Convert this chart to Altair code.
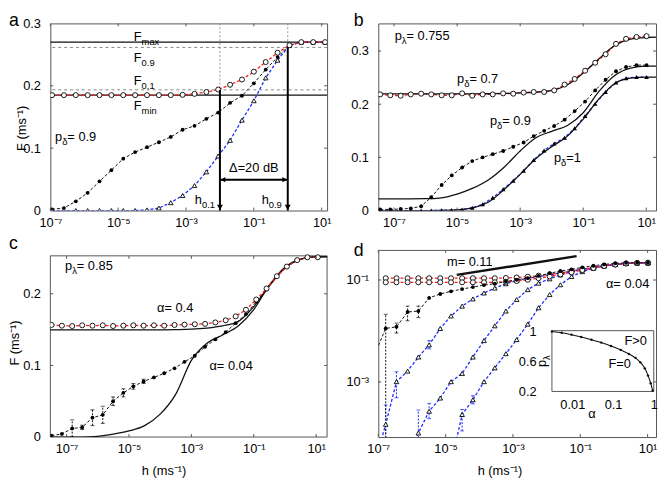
import altair as alt
import pandas as pd

FONT = "Liberation Sans"
FS = 13
FSUB = 9.5
INK = "#111111"
FRAME = "#555555"
GRAY = "#7a7a7a"
RED = "#ff1a1a"
BLUE = "#1a2cff"

# ---------------- panel a data (log10 h, F) ----------------
a_logh = [-6.95, -6.6, -6.25, -5.9, -5.55, -5.2, -4.85, -4.5, -4.15, -3.8, -3.45, -3.1,
          -2.75, -2.4, -2.05, -1.7, -1.35, -1.0, -0.65, -0.3, 0.05, 0.4, 0.75, 1.1]
a_open = [0.185, 0.185, 0.185, 0.185, 0.185, 0.185, 0.185, 0.185, 0.185, 0.185, 0.185, 0.1855,
          0.187, 0.19, 0.194, 0.2016, 0.21, 0.2226, 0.238, 0.253, 0.265, 0.27, 0.27, 0.27]
a_filled = [0.002, 0.004, 0.0147, 0.0284, 0.0468, 0.0647, 0.0832, 0.0937, 0.1016, 0.1095, 0.118, 0.1295,
            0.1358, 0.147, 0.157, 0.1726, 0.184, 0.204, 0.226, 0.246, 0.265, 0.27, 0.27, 0.27]
a_tri = [0.0, 0.0, 0.0, 0.0, 0.0, 0.0, 0.0, 0.0, 0.001, 0.004, 0.0126, 0.024,
         0.04, 0.062, 0.0874, 0.1126, 0.145, 0.176, 0.2127, 0.241, 0.265, 0.27, 0.27, 0.27]
a_levels_solid = [0.27, 0.185]       # F_max, F_min
a_levels_dashed = [0.2615, 0.1935]   # F_0.9, F_0.1
a_hmarks = [-2.0, 0.0]               # log10 of h_0.1, h_0.9
a_arrow_top = [0.1935, 0.2615]
a_delta_F = 0.0495

# ---------------- panel b data ----------------
b_logh = [-7.44, -7.12, -6.79, -6.47, -6.14, -5.82, -5.49, -5.17, -4.84, -4.52, -4.19, -3.87, -3.54,
          -3.22, -2.89, -2.57, -2.24, -1.92, -1.59, -1.27, -0.94, -0.62, -0.29, 0.04, 0.36, 0.69, 1.01]
b_open = [0.2185, 0.2167, 0.216, 0.2185, 0.2198, 0.2185, 0.2167, 0.2167, 0.2204, 0.216, 0.2185, 0.2185, 0.2204,
          0.2198, 0.222, 0.223, 0.223, 0.226, 0.237, 0.2475, 0.263, 0.278, 0.294, 0.3135, 0.323, 0.3265, 0.328]
b_filled = [0.002, 0.002, 0.003, 0.004, 0.008, 0.025, 0.048, 0.066, 0.081, 0.093, 0.1, 0.106, 0.112,
            0.12, 0.128, 0.14, 0.15, 0.159, 0.171, 0.187, 0.205, 0.226, 0.246, 0.262, 0.27, 0.2735, 0.2735]
b_tri = [0.0, 0.0, 0.0, 0.0, 0.0, 0.0, 0.0005, 0.001, 0.002, 0.005, 0.012, 0.024, 0.04,
         0.056, 0.075, 0.095, 0.113, 0.126, 0.137, 0.155, 0.178, 0.201, 0.223, 0.241, 0.249, 0.251, 0.251]
b_th_logh = [-7.5, -7.0, -6.5, -6.0, -5.5, -5.0, -4.5, -4.0, -3.5, -3.0, -2.5, -2.0, -1.5, -1.0, -0.5,
             0.0, 0.5, 1.0, 1.31]
b_th_07 = [0.2195, 0.2195, 0.2195, 0.2195, 0.2195, 0.2195, 0.2195, 0.2197, 0.2202, 0.2212, 0.2228,
           0.2258, 0.2365, 0.2585, 0.2855, 0.3105, 0.3225, 0.3255, 0.326]
b_th_09 = [0.022, 0.022, 0.022, 0.0222, 0.024, 0.031, 0.042, 0.058, 0.082, 0.112, 0.137, 0.149, 0.16,
           0.184, 0.224, 0.254, 0.268, 0.2715, 0.2715]
b_th_1 = [0.0, 0.0, 0.0, 0.0, 0.0002, 0.001, 0.005, 0.016, 0.04, 0.068, 0.098, 0.12, 0.14, 0.172, 0.21,
          0.239, 0.249, 0.251, 0.251]

# ---------------- panel c data ----------------
c_logh = [-7.48, -7.15, -6.82, -6.50, -6.17, -5.84, -5.51, -5.18, -4.86, -4.53, -4.20, -3.87, -3.54,
          -3.22, -2.89, -2.56, -2.23, -1.90, -1.58, -1.25, -0.92, -0.59, -0.26, 0.06, 0.39, 0.72, 1.05]
c_open = [0.1565, 0.1555, 0.155, 0.156, 0.1555, 0.156, 0.155, 0.1555, 0.156, 0.1555, 0.156, 0.1555, 0.1565,
          0.157, 0.1575, 0.158, 0.160, 0.163, 0.1685, 0.1777, 0.192, 0.2074, 0.2245, 0.238, 0.247, 0.251, 0.251]
c_filled = [0.002, 0.0044, 0.012, 0.0135, 0.027, 0.031, 0.05, 0.0617, 0.0708, 0.0777, 0.0832, 0.0891, 0.096,
            0.105, 0.1135, 0.1259, 0.1364, 0.1465, 0.159, 0.1717, 0.189, 0.206, 0.224, 0.238, 0.247, 0.251, 0.251]
c_err = [0.001, 0.002, 0.012, 0.003, 0.011, 0.012, 0.006, 0.0057, 0.004, 0.003, 0.002, 0.002, 0.002,
         0.002, 0.002, 0.002, 0.002, 0.002, 0.002, 0.002, 0.0, 0.0, 0.0, 0.0, 0.0, 0.0, 0.0]
c_th_logh = [-7.6, -7.0, -6.5, -6.0, -5.5, -5.0, -4.5, -4.0, -3.5, -3.0, -2.5, -2.0, -1.5, -1.0, -0.5,
             0.0, 0.5, 1.0, 1.4]
c_th_04 = [0.1495, 0.1495, 0.1495, 0.1495, 0.1495, 0.1495, 0.1495, 0.1497, 0.15, 0.1506, 0.1522, 0.1553,
           0.1612, 0.182, 0.211, 0.236, 0.248, 0.2515, 0.252]
c_th_004 = [0.0, 0.0, 0.0, 0.001, 0.004, 0.0085, 0.016, 0.032, 0.06, 0.107, 0.131, 0.1425, 0.155, 0.178,
            0.212, 0.237, 0.2485, 0.2515, 0.252]

# ---------------- panel d data (log10 h, log10 F) ----------------
d_logh = [-6.78, -6.46, -6.13, -5.81, -5.49, -5.16, -4.84, -4.51, -4.19, -3.86, -3.54, -3.21, -2.89,
          -2.56, -2.24, -1.91, -1.59, -1.26, -0.94, -0.61, -0.29, 0.04, 0.36, 0.69, 1.01]
d_open_hi = [-0.965, -0.965, -0.965, -0.965, -0.965, -0.965, -0.965, -0.965, -0.965, -0.965, -0.965, -0.96,
             -0.95, -0.935, -0.915, -0.89, -0.86, -0.825, -0.79, -0.755, -0.72, -0.695, -0.675, -0.665, -0.662]
d_open_lo = [-1.045, -1.045, -1.045, -1.045, -1.045, -1.045, -1.045, -1.045, -1.045, -1.045, -1.045, -1.035,
             -1.02, -0.995, -0.965, -0.93, -0.89, -0.85, -0.805, -0.765, -0.725, -0.697, -0.676, -0.665, -0.662]
d_filled_logh = [-7.11] + d_logh
d_filled = [-2.46, -1.95, -1.918, -1.628, -1.609, -1.351, -1.274, -1.222, -1.178, -1.139, -1.1, -1.073, -1.029,
            -0.996, -0.964, -0.919, -0.868, -0.823, -0.79, -0.752, -0.72, -0.694, -0.675, -0.662, -0.662, -0.662]
d_filled_err_logh = [-6.78, -6.46, -6.13, -5.81]
d_filled_err_lo = [-4.5, -2.04, -1.80, -1.738]
d_filled_err_hi = [-1.672, -1.846, -1.512, -1.512]
d_t1_logh = [-7.11] + d_logh
d_t1 = [-4.6, -3.83, -2.994, -2.787, -2.511, -2.272, -1.951, -1.705, -1.512, -1.371, -1.255, -1.158, -1.074,
        -1.01, -0.965, -0.932, -0.9, -0.86, -0.825, -0.79, -0.755, -0.72, -0.695, -0.676, -0.665, -0.662]
d_t2_logh = d_logh[2:]
d_t2 = [-4.6, -4.0, -3.574, -3.315, -2.994, -2.832, -2.511, -2.188, -1.899, -1.609, -1.383, -1.189, -1.062,
        -0.977, -0.9, -0.836, -0.79, -0.752, -0.72, -0.694, -0.675, -0.664, -0.662]
d_t3_logh = d_logh[6:]
d_t3 = [-4.6, -3.638, -3.348, -2.994, -2.723, -2.445, -2.169, -1.866, -1.545, -1.286, -1.093, -0.932, -0.836,
        -0.77, -0.725, -0.697, -0.676, -0.665, -0.662]
d_terr_logh = [-6.78, -6.46, -5.49, -5.81, -5.49, -4.51, -4.19]
d_terr_lo = [-4.5, -3.31, -2.35, -4.5, -3.72, -3.96, -3.43]
d_terr_hi = [-3.45, -2.80, -2.19, -3.55, -3.42, -3.54, -3.27]
d_slope_logh = [-4.67, -1.11]
d_slope_logF = [-0.9, -0.532]
# inset: p_lambda vs alpha
in_logalpha = [-2.5, -2.26, -2.02, -1.78, -1.53, -1.29, -1.05, -0.81, -0.61, -0.45, -0.33, -0.22, -0.14,
               -0.075, -0.027]
in_p = [1.0, 0.983, 0.957, 0.925, 0.89, 0.851, 0.806, 0.754, 0.70, 0.648, 0.588, 0.508, 0.411, 0.31, 0.21]

# ---------------- helpers ----------------
CHAR_W = {'p': 0.556, 'F': 0.611, 'h': 0.556, '=': 0.584, ' ': 0.278, '.': 0.278, 'δ': 0.55, 'λ': 0.5,
          'α': 0.58, 'Δ': 0.668, 'm': 0.833, 'a': 0.556, 'x': 0.5, 'i': 0.222, 'n': 0.556, 'd': 0.556,
          'B': 0.667, '>': 0.584}


def tw(s, size):
    return sum(CHAR_W.get(ch, 0.556) for ch in s) * size


def lg(vals):
    return [10 ** v for v in vals]


XEXPR = ("datum.value < 1e-6 ? '10⁻⁷' : datum.value < 1e-4 ? '10⁻⁵' : "
         "datum.value < 1e-2 ? '10⁻³' : datum.value < 1 ? '10⁻¹' : '10¹'")


def xaxis(title=None, title_x=0):
    kw = dict(values=[1e-7, 1e-5, 1e-3, 1e-1, 10], labelExpr=XEXPR, labelPadding=6,
              labelFlush=False, labelOverlap=False, ticks=False, tickSize=0, domain=False, grid=False)
    if title:
        kw.update(title=title, titleX=title_x, titleY=38, titleBaseline='alphabetic', titleAlign='center')
    else:
        kw['title'] = None
    return alt.Axis(**kw)


def yaxis(values, fmt=None, expr=None, title=None, title_x=0, title_y=0):
    kw = dict(values=values, labelPadding=10, labelOverlap=False, ticks=False, tickSize=0,
              domain=False, grid=False, labelFlush=False)
    if fmt:
        kw['format'] = fmt
    if expr:
        kw['labelExpr'] = expr
    if title:
        kw.update(title=title, titleX=title_x, titleY=title_y, titleAngle=270,
                  titleBaseline='middle', titleAlign='center')
    else:
        kw['title'] = None
    return alt.Axis(**kw)


class Panel:
    def __init__(self, xs, ys, ax, ay, W, H, top=0):
        self.xs, self.ys, self.ax, self.ay, self.W, self.H, self.top = xs, ys, ax, ay, W, H, top

    def X(self, f):
        return alt.X(f, type='quantitative', scale=self.xs, axis=self.ax)

    def Y(self, f):
        return alt.Y(f, type='quantitative', scale=self.ys, axis=self.ay)


MARK = {
    'oc': dict(shape='circle', filled=True, fill='white', stroke='black', strokeWidth=0.9, size=26),
    'fc': dict(shape='circle', filled=True, color='black', size=15),
    'ot': dict(shape='triangle-up', filled=True, fill='white', stroke='black', strokeWidth=0.9, size=22),
    'ft': dict(shape='triangle-up', filled=True, color='black', size=22),
}


def line(P, df, yf, color, dash=None, width=1.0, interp='linear'):
    kw = dict(color=color, strokeWidth=width, interpolate=interp, clip=True)
    if dash:
        kw['strokeDash'] = dash
    return alt.Chart(df).mark_line(**kw).encode(x=P.X('h'), y=P.Y(yf))


def pts(P, df, yf, kind):
    return alt.Chart(df).mark_point(clip=True, opacity=1, **MARK[kind]).encode(x=P.X('h'), y=P.Y(yf))


def errbars(P, df, color):
    rule = alt.Chart(df).mark_rule(color=color, strokeWidth=1, strokeDash=[2, 1.5], clip=True).encode(
        x=P.X('h'), y=P.Y('lo'), y2=alt.Y2('hi'))
    lo = alt.Chart(df).mark_point(shape='stroke', size=16, color=color, strokeWidth=1, clip=True).encode(
        x=P.X('h'), y=P.Y('lo'))
    hi = alt.Chart(df).mark_point(shape='stroke', size=16, color=color, strokeWidth=1, clip=True).encode(
        x=P.X('h'), y=P.Y('hi'))
    return [rule, lo, hi]


def rich(P, hx, fy, parts, align='left'):
    df = pd.DataFrame({'h': [hx], 'F': [fy]})
    sizes = [FS if k == 'n' else FSUB for _, k in parts]
    total = sum(tw(t, sz) for (t, _), sz in zip(parts, sizes))
    dx = 0 if align == 'left' else (-total / 2 if align == 'center' else -total)
    out = []
    for (t, k), sz in zip(parts, sizes):
        out.append(alt.Chart(df).mark_text(text=t, align='left', baseline='alphabetic', dx=dx,
                                           dy=0 if k == 'n' else 4, fontSize=sz, font=FONT,
                                           color='black').encode(x=P.X('h'), y=P.Y('F')))
        dx += tw(t, sz)
    return out


def inward_ticks(P, xvals, yvals, L=3):
    xt = pd.DataFrame({'h': xvals})
    yt = pd.DataFrame({'F': yvals})
    st = dict(color=FRAME, strokeWidth=1)
    return [
        alt.Chart(xt).mark_rule(**st).encode(x=P.X('h'), y=alt.value(P.H), y2=alt.value(P.H - L)),
        alt.Chart(xt).mark_rule(**st).encode(x=P.X('h'), y=alt.value(P.top), y2=alt.value(P.top + L)),
        alt.Chart(yt).mark_rule(**st).encode(y=P.Y('F'), x=alt.value(0), x2=alt.value(L)),
        alt.Chart(yt).mark_rule(**st).encode(y=P.Y('F'), x=alt.value(P.W), x2=alt.value(P.W - L)),
    ]


def letter(ch, x, y):
    return alt.Chart(pd.DataFrame({'k': [0]})).mark_text(
        text=ch, fontSize=18, font=FONT, align='left', baseline='alphabetic', color='black').encode(
        x=alt.value(x), y=alt.value(y))


def n(t):
    return (t, 'n')


def s(t):
    return (t, 's')


XT = [1e-7, 1e-5, 1e-3, 1e-1, 10]
CW = 1.3  # coloured dashed line width

# ================= panel a =================
Pa = Panel(alt.Scale(type='log', domain=[10 ** -7.0, 10 ** 1.16], nice=False),
           alt.Scale(domain=[0, 0.3], nice=False, zero=False),
           xaxis(), yaxis([0, 0.1, 0.2, 0.3], fmt='.1~f', title='F (ms⁻¹)', title_x=-29, title_y=106),
           281, 190)
dfa = pd.DataFrame({'h': lg(a_logh), 'open': a_open, 'filled': a_filled, 'tri': a_tri})
a_layers = [
    alt.Chart(pd.DataFrame({'h': lg(a_hmarks)})).mark_rule(color=GRAY, strokeWidth=0.8, strokeDash=[2, 2]).encode(x=Pa.X('h')),
    alt.Chart(pd.DataFrame({'F': a_levels_dashed})).mark_rule(color=GRAY, strokeWidth=0.9, strokeDash=[3, 3]).encode(y=Pa.Y('F')),
    alt.Chart(pd.DataFrame({'F': a_levels_solid})).mark_rule(color=INK, strokeWidth=1.1).encode(y=Pa.Y('F')),
    line(Pa, dfa, 'tri', BLUE, [3, 2], CW),
    line(Pa, dfa, 'filled', INK, [3, 2]),
    line(Pa, dfa, 'open', RED, [3, 2], CW),
    pts(Pa, dfa, 'filled', 'fc'),
    pts(Pa, dfa, 'tri', 'ot'),
    pts(Pa, dfa, 'open', 'oc'),
    alt.Chart(pd.DataFrame({'h': lg(a_hmarks), 'F1': a_arrow_top, 'F2': [0.0, 0.0]})).mark_rule(
        color='black', strokeWidth=2).encode(x=Pa.X('h'), y=Pa.Y('F1'), y2=alt.Y2('F2')),
    alt.Chart(pd.DataFrame({'h': lg(a_hmarks), 'F': [0.005, 0.005]})).mark_point(
        shape='triangle-down', filled=True, color='black', size=36, opacity=1).encode(x=Pa.X('h'), y=Pa.Y('F')),
    alt.Chart(pd.DataFrame({'h': [10 ** a_hmarks[0]], 'h2': [10 ** a_hmarks[1]], 'F': [a_delta_F]})).mark_rule(
        color='black', strokeWidth=2).encode(x=Pa.X('h'), x2=alt.X2('h2'), y=Pa.Y('F')),
    alt.Chart(pd.DataFrame({'h': [10 ** (a_hmarks[0] + 0.09)], 'F': [a_delta_F]})).mark_point(
        shape='triangle-left', filled=True, color='black', size=30, opacity=1).encode(x=Pa.X('h'), y=Pa.Y('F')),
    alt.Chart(pd.DataFrame({'h': [10 ** (a_hmarks[1] - 0.09)], 'F': [a_delta_F]})).mark_point(
        shape='triangle-right', filled=True, color='black', size=30, opacity=1).encode(x=Pa.X('h'), y=Pa.Y('F')),
]
a_layers += rich(Pa, 10 ** -4.54, 0.2724, [n('F'), s('max')])
a_layers += rich(Pa, 10 ** -4.54, 0.2379, [n('F'), s('0.9')])
a_layers += rich(Pa, 10 ** -4.54, 0.201, [n('F'), s('0.1')])
a_layers += rich(Pa, 10 ** -4.54, 0.1615, [n('F'), s('min')])
a_layers += rich(Pa, 10 ** -6.86, 0.111, [n('p'), s('δ'), n('= 0.9')])
a_layers += rich(Pa, 10 ** -1.0, 0.0616, [n('Δ=20 dB')], align='center')
a_layers += rich(Pa, 10 ** -2.74, 0.01, [n('h'), s('0.1')])
a_layers += rich(Pa, 10 ** -0.77, 0.01, [n('h'), s('0.9')])
a_layers += inward_ticks(Pa, XT, [0.1, 0.2])
a_layers.append(letter('a', -42, 3))
panel_a = alt.layer(*a_layers).properties(width=Pa.W, height=Pa.H)

# ================= panel b =================
Pb = Panel(alt.Scale(type='log', domain=[10 ** -7.5, 10 ** 1.31], nice=False),
           alt.Scale(domain=[0, 0.352], nice=False, zero=False),
           xaxis(), yaxis([0, 0.1, 0.2, 0.3], fmt='.1~f'), 282, 190)
dfb = pd.DataFrame({'h': lg(b_logh), 'open': b_open, 'filled': b_filled, 'tri': b_tri})
dfbt = pd.DataFrame({'h': lg(b_th_logh), 't07': b_th_07, 't09': b_th_09, 't1': b_th_1})
b_layers = [
    line(Pb, dfb, 'tri', BLUE, [3, 2], CW),
    line(Pb, dfb, 'filled', INK, [3, 2]),
    line(Pb, dfb, 'open', RED, [3, 2], CW),
    line(Pb, dfbt, 't07', INK, None, 1.3, 'monotone'),
    line(Pb, dfbt, 't09', INK, None, 1.3, 'monotone'),
    line(Pb, dfbt, 't1', INK, None, 1.3, 'monotone'),
    pts(Pb, dfb, 'filled', 'fc'),
    pts(Pb, dfb, 'tri', 'ft'),
    pts(Pb, dfb, 'open', 'oc'),
]
b_layers += rich(Pb, 10 ** -6.98, 0.32, [n('p'), s('λ'), n('= 0.755')])
b_layers += rich(Pb, 10 ** -5.0, 0.239, [n('p'), s('δ'), n('= 0.7')])
b_layers += rich(Pb, 10 ** -3.96, 0.1617, [n('p'), s('δ'), n('= 0.9')])
b_layers += rich(Pb, 10 ** -1.93, 0.092, [n('p'), s('δ'), n('=1')])
b_layers += inward_ticks(Pb, XT, [0.1, 0.2, 0.3])
b_layers.append(letter('b', -25, 3))
panel_b = alt.layer(*b_layers).properties(width=Pb.W, height=Pb.H)

# ================= panel c (drawn in a 190-high cell, frame starts 6 px down) =================
C_TOP = 6
Pc = Panel(alt.Scale(type='log', domain=[10 ** -7.52, 10 ** 1.35], nice=False),
           alt.Scale(domain=[0, 0.253], range=[190, C_TOP], nice=False, zero=False),
           xaxis('h (ms⁻¹)', 115), yaxis([0, 0.1, 0.2], fmt='.1~f', title='F (ms⁻¹)', title_x=-36, title_y=94),
           281, 190, top=C_TOP)
dfc = pd.DataFrame({'h': lg(c_logh), 'open': c_open, 'filled': c_filled})
dfce = pd.DataFrame({'h': [10 ** v for v, e in zip(c_logh, c_err) if e >= 0.003],
                     'lo': [f - e for f, e in zip(c_filled, c_err) if e >= 0.003],
                     'hi': [f + e for f, e in zip(c_filled, c_err) if e >= 0.003]})
dfct = pd.DataFrame({'h': lg(c_th_logh), 't04': c_th_04, 't004': c_th_004})
c_layers = [
    alt.Chart(pd.DataFrame({'k': [0]})).mark_rect(filled=False, stroke=FRAME, strokeWidth=1).encode(
        x=alt.value(0), x2=alt.value(281), y=alt.value(C_TOP), y2=alt.value(190)),
    line(Pc, dfct, 't04', INK, None, 1.3, 'monotone'),
    line(Pc, dfct, 't004', INK, None, 1.3, 'monotone'),
    line(Pc, dfc, 'filled', INK, [3, 2]),
    line(Pc, dfc, 'open', RED, [3, 2], CW),
] + errbars(Pc, dfce, INK) + [
    pts(Pc, dfc, 'filled', 'fc'),
    pts(Pc, dfc, 'open', 'oc'),
]
c_layers += rich(Pc, 10 ** -7.05, 0.2327, [n('p'), s('λ'), n('= 0.85')])
c_layers += rich(Pc, 10 ** -4.1, 0.1744, [n('α= 0.4')])
c_layers += rich(Pc, 10 ** -2.42, 0.0942, [n('α= 0.04')])
c_layers += inward_ticks(Pc, XT, [0.1, 0.2])
c_layers.append(letter('c', -42, -0.5))
panel_c = alt.layer(*c_layers).properties(width=Pc.W, height=Pc.H,
                                          view=alt.ViewBackground(stroke='transparent'))

# ================= panel d =================
YDEXPR = "datum.value < 1e-2 ? '10⁻³' : '10⁻¹'"
Pd = Panel(alt.Scale(type='log', domain=[10 ** -7.0, 10 ** 1.25], nice=False),
           alt.Scale(type='log', domain=[10 ** -4.08, 10 ** -0.41], nice=False),
           xaxis('h (ms⁻¹)', 123), yaxis([1e-3, 1e-1], expr=YDEXPR), 282, 190)
dfdo = pd.DataFrame({'h': lg(d_logh), 'hi': lg(d_open_hi), 'lo': lg(d_open_lo)})
dfdf = pd.DataFrame({'h': lg(d_filled_logh), 'F': lg(d_filled)})
dfdfe = pd.DataFrame({'h': lg(d_filled_err_logh), 'lo': lg(d_filled_err_lo), 'hi': lg(d_filled_err_hi)})
dft1 = pd.DataFrame({'h': lg(d_t1_logh), 'F': lg(d_t1)})
dft2 = pd.DataFrame({'h': lg(d_t2_logh), 'F': lg(d_t2)})
dft3 = pd.DataFrame({'h': lg(d_t3_logh), 'F': lg(d_t3)})
dfte = pd.DataFrame({'h': lg(d_terr_logh), 'lo': lg(d_terr_lo), 'hi': lg(d_terr_hi)})
dfsl = pd.DataFrame({'h': lg(d_slope_logh), 'F': lg(d_slope_logF)})
d_main = [
    line(Pd, dft1, 'F', BLUE, [3, 2], CW),
    line(Pd, dft2, 'F', BLUE, [3, 2], CW),
    line(Pd, dft3, 'F', BLUE, [3, 2], CW),
    line(Pd, dfdo, 'hi', RED, [3, 2], CW),
    line(Pd, dfdo, 'lo', RED, [3, 2], CW),
    line(Pd, dfdf, 'F', INK, [3, 2]),
] + errbars(Pd, dfte, BLUE) + errbars(Pd, dfdfe, INK) + [
    pts(Pd, dft1, 'F', 'ot'),
    pts(Pd, dft2, 'F', 'ot'),
    pts(Pd, dft3, 'F', 'ot'),
    pts(Pd, dfdo, 'hi', 'oc'),
    pts(Pd, dfdo, 'lo', 'oc'),
    pts(Pd, dfdf, 'F', 'fc'),
    alt.Chart(dfsl).mark_line(color=INK, strokeWidth=2.5).encode(x=Pd.X('h'), y=Pd.Y('F')),
]
d_main += rich(Pd, 10 ** -4.96, 10 ** -0.726, [n('m= 0.11')])
d_main += rich(Pd, 10 ** -0.237, 10 ** -1.158, [n('α= 0.04')])
d_main += inward_ticks(Pd, XT, [1e-3, 1e-1])
d_main.append(letter('d', -25, 6))
d_main_layer = alt.layer(*d_main)

# inset
in_xs = alt.Scale(type='log', domain=[10 ** -2.5, 1], range=[176.3, 279.7], nice=False)
in_ys = alt.Scale(domain=[0.2, 1.01], range=[143.7, 82], nice=False, zero=False)
in_ax = alt.Axis(orient='bottom', offset=-46.3, values=[0.01, 0.1, 1], format='~g', labelPadding=7,
                 labelFlush=False, labelOverlap=False, ticks=False, tickSize=0, domain=False, grid=False,
                 title='α', titleX=216.5, titleY=26, titleBaseline='alphabetic', titleAlign='center')
in_ay = alt.Axis(orient='left', offset=-176.3, values=[0.2, 0.6, 1], format='~g', labelPadding=16,
                 labelFlush=False, labelOverlap=False, ticks=False, tickSize=0, domain=False, grid=False,
                 title=None)


def IX(f):
    return alt.X(f, type='quantitative', scale=in_xs, axis=in_ax)


def IY(f):
    return alt.Y(f, type='quantitative', scale=in_ys, axis=in_ay)


dfin = pd.DataFrame({'a': lg(in_logalpha), 'p': in_p})
in_layers = [
    alt.Chart(pd.DataFrame({'a': [10 ** -2.5], 'a2': [1.0], 'p': [0.2], 'p2': [1.01]})).mark_rect(
        fill='white', stroke=FRAME, strokeWidth=1).encode(x=IX('a'), x2=alt.X2('a2'), y=IY('p'), y2=alt.Y2('p2')),
    alt.Chart(dfin).mark_line(color=INK, strokeWidth=1.1, interpolate='monotone').encode(x=IX('a'), y=IY('p')),
    alt.Chart(dfin).mark_circle(color=INK, size=6, opacity=1).encode(x=IX('a'), y=IY('p')),
    alt.Chart(pd.DataFrame({'a': [10 ** -0.72], 'p': [0.816]})).mark_text(
        text='F>0', fontSize=FS, font=FONT, align='left', baseline='alphabetic').encode(x=IX('a'), y=IY('p')),
    alt.Chart(pd.DataFrame({'a': [10 ** -1.11], 'p': [0.516]})).mark_text(
        text='F=0', fontSize=FS, font=FONT, align='left', baseline='alphabetic').encode(x=IX('a'), y=IY('p')),
    alt.Chart(pd.DataFrame({'k': [0]})).mark_text(
        text='p', fontSize=FS, font=FONT, angle=270, align='left', baseline='alphabetic').encode(
        x=alt.value(170.5), y=alt.value(119)),
    alt.Chart(pd.DataFrame({'k': [0]})).mark_text(
        text='λ', fontSize=FSUB, font=FONT, angle=270, align='left', baseline='alphabetic',
        dx=tw('p', FS), dy=4).encode(x=alt.value(170.5), y=alt.value(119)),
]
inset_layer = alt.layer(*in_layers)

panel_d = alt.layer(d_main_layer, inset_layer).resolve_scale(
    x='independent', y='independent').properties(width=Pd.W, height=Pd.H)

chart = alt.concat(panel_a, panel_b, panel_c, panel_d, columns=2,
                   spacing={"row": 40, "column": 52}, bounds='flush').properties(padding=0)
chart = chart.configure_view(stroke=FRAME, strokeWidth=1).configure_axis(
    labelFont=FONT, labelFontSize=FS, labelColor='black', titleFont=FONT, titleFontSize=FS,
    titleColor='black', titleFontWeight='normal').configure_text(font=FONT)

chart.save("out.html", embed_options={"renderer": "svg", "actions": False})
